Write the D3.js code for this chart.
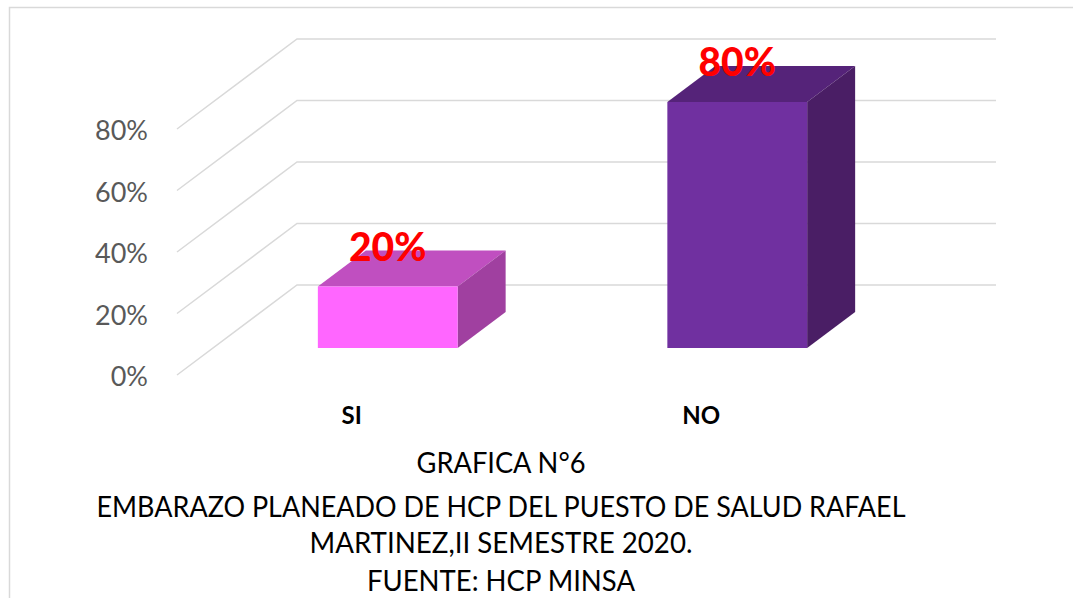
<!DOCTYPE html>
<html>
<head>
<meta charset="utf-8">
<script src="https://cdn.jsdelivr.net/npm/d3@7"></script>
<style>
  body { margin: 0; background: #fff; }
  svg { display: block; font-family: Lato, "Open Sans", sans-serif; }
</style>
</head>
<body>
<div id="chart"></div>
<script>
// data
const categories = ["SI", "NO"];
const values = [20, 80];
const valueLabels = ["20%", "80%"];
const yTicks = [0, 20, 40, 60, 80];
const frontColors = ["#FF66FF", "#7030A0"];
const topColors = ["#C04FC0", "#552379"];
const sideColors = ["#A040A0", "#4A1E65"];
const titleLines = [
  "GRAFICA N°6",
  "EMBARAZO PLANEADO DE HCP DEL PUESTO DE SALUD RAFAEL",
  "MARTINEZ,II SEMESTRE 2020.",
  "FUENTE: HCP MINSA"
];

const W = 1073, H = 598;
const svg = d3.select("#chart").append("svg")
  .attr("width", W).attr("height", H);

// chart area border
svg.append("rect")
  .attr("x", 9.5).attr("y", 7.5)
  .attr("width", 1100).attr("height", 700)
  .attr("fill", "none").attr("stroke", "#D9D9D9").attr("stroke-width", 1.5);

// oblique 3d projection: full floor depth offset
const depthX = 120, depthY = -90;

// scales on the front plane
const x = d3.scaleBand()
  .domain(categories)
  .range([177, 876])
  .paddingInner(0.6)
  .paddingOuter(0.3);

const y = d3.scaleLinear()
  .domain([0, 80])
  .range([375, 129]);

// gridlines: floor diagonal + back wall line
const grid = svg.append("g");
yTicks.forEach(t => {
  const y0 = y(t);
  grid.append("polyline")
    .attr("points", [
      [x.range()[0], y0],
      [x.range()[0] + depthX, y0 + depthY],
      [x.range()[1] + depthX, y0 + depthY]
    ].map(p => p.join(",")).join(" "))
    .attr("fill", "none")
    .attr("stroke", "#D9D9D9")
    .attr("stroke-width", 1.5);
});

// y axis labels
const yAxis = svg.append("g")
  .attr("transform", "translate(177,0)")
  .call(d3.axisLeft(y).tickValues(yTicks).tickSize(0).tickPadding(29)
    .tickFormat(d => d + "%"));
yAxis.select(".domain").remove();
yAxis.selectAll("text")
  .attr("dy", "0.4em")
  .style("font-family", "Lato, sans-serif")
  .style("font-size", "27px")
  .attr("fill", "#595959");

// bars: front face sits 0.3 of the floor depth back, bar depth is 0.4
const fOff = 0.3, bDepth = 0.4;
const bdx = depthX * bDepth, bdy = depthY * bDepth;
const bars = svg.append("g");
categories.forEach((c, i) => {
  const fx = x(c) + depthX * fOff;
  const w = x.bandwidth();
  const yTop = y(values[i]) + depthY * fOff;
  const yBot = y(0) + depthY * fOff;
  const pts = arr => arr.map(p => p.join(",")).join(" ");

  bars.append("polygon")
    .attr("points", pts([[fx, yTop], [fx + w, yTop], [fx + w + bdx, yTop + bdy], [fx + bdx, yTop + bdy]]))
    .attr("fill", topColors[i]);
  bars.append("polygon")
    .attr("points", pts([[fx + w, yTop], [fx + w + bdx, yTop + bdy], [fx + w + bdx, yBot + bdy], [fx + w, yBot]]))
    .attr("fill", sideColors[i]);
  bars.append("rect")
    .attr("x", fx).attr("y", yTop)
    .attr("width", w).attr("height", yBot - yTop)
    .attr("fill", frontColors[i]);

  // value label
  bars.append("text")
    .attr("x", fx + w / 2)
    .attr("y", yTop - 26)
    .attr("text-anchor", "middle")
    .attr("fill", "#FF0000")
    .style("font-weight", "900")
    .style("font-size", "39px")
    .text(valueLabels[i]);
});

// category labels
const xAxis = svg.append("g")
  .attr("transform", "translate(0,407)")
  .call(d3.axisBottom(x).tickSize(0).tickPadding(0));
xAxis.select(".domain").remove();
xAxis.selectAll("text")
  .attr("dy", "0.72em")
  .style("font-family", "Lato, sans-serif")
  .style("font-size", "24px")
  .style("font-weight", "bold")
  .attr("fill", "#000");

// title block
const titleBase = [473, 517, 553, 591];
const titleWidth = [169, 809, 383, 268];
const title = svg.append("g");
titleLines.forEach((t, i) => {
  title.append("text")
    .attr("x", 501)
    .attr("y", titleBase[i])
    .attr("text-anchor", "middle")
    .attr("textLength", titleWidth[i])
    .attr("lengthAdjust", "spacingAndGlyphs")
    .style("font-size", "29px")
    .attr("fill", "#000")
    .text(t);
});
</script>
</body>
</html>
